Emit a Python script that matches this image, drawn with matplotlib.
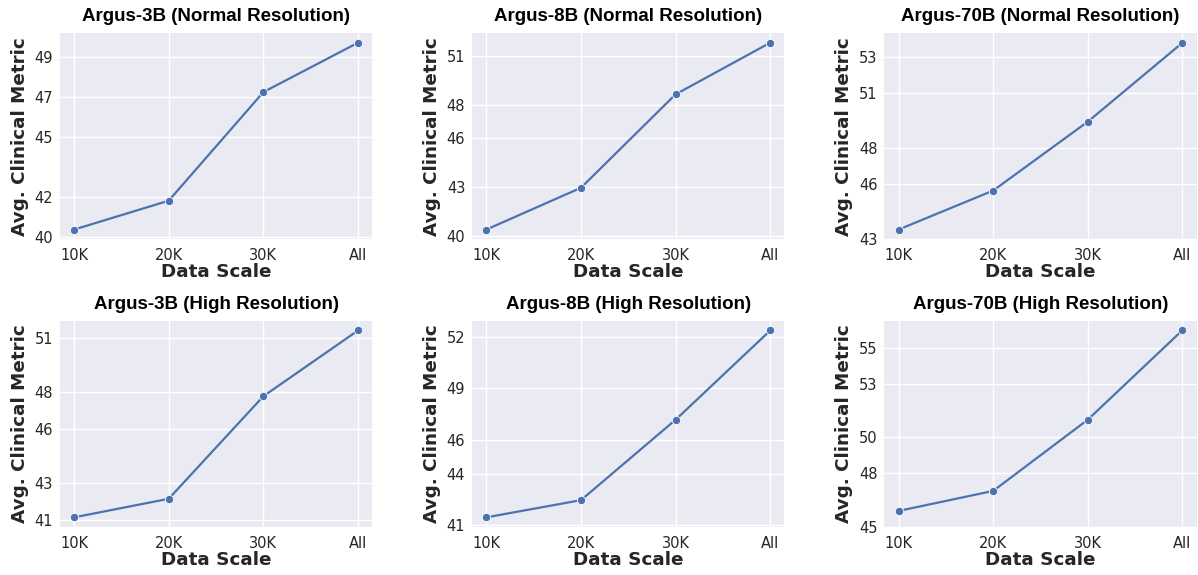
import matplotlib
matplotlib.use("Agg")
import matplotlib.pyplot as plt

# ── Data ─────────────────────────────────────────────────────────────────────
scales = ["10K", "20K", "30K", "All"]

titles = [
    "Argus-3B (Normal Resolution)",
    "Argus-8B (Normal Resolution)",
    "Argus-70B (Normal Resolution)",
    "Argus-3B (High Resolution)",
    "Argus-8B (High Resolution)",
    "Argus-70B (High Resolution)",
]

argus3b_normal = [40.35, 41.80, 47.25, 49.73]
argus8b_normal = [40.40, 42.95, 48.65, 51.80]
argus70b_normal = [43.51, 45.65, 49.43, 53.76]
argus3b_high = [41.14, 42.16, 47.79, 51.40]
argus8b_high = [41.43, 42.44, 47.16, 52.40]
argus70b_high = [45.88, 47.00, 50.98, 55.98]

series = [argus3b_normal, argus8b_normal, argus70b_normal,
          argus3b_high, argus8b_high, argus70b_high]

yticks = [
    [40, 42, 45, 47, 49],
    [40, 43, 46, 48, 51],
    [43, 46, 48, 51, 53],
    [41, 43, 46, 48, 51],
    [41, 44, 46, 49, 52],
    [45, 48, 50, 53, 55],
]

# ── Style (seaborn darkgrid look) ────────────────────────────────────────────
_BG   = "#eaeaf2"
_TEXT = "#262626"
_LINE = "#4c72b0"

plt.rcParams.update({
    "font.family": "DejaVu Sans",
    "axes.facecolor": _BG,
    "axes.edgecolor": "white",
    "axes.grid": True,
    "grid.color": "white",
    "grid.linewidth": 1.0,
    "axes.axisbelow": True,
    "xtick.color": _TEXT,
    "ytick.color": _TEXT,
    "xtick.major.size": 0,
    "ytick.major.size": 0,
    "axes.labelcolor": _TEXT,
})

fig, axes = plt.subplots(2, 3, figsize=(11.98, 5.75), dpi=100)
fig.subplots_adjust(left=0.050, right=0.9989, top=0.942, bottom=0.084,
                    wspace=0.32, hspace=0.40)

for ax, title, ys, ticks in zip(axes.flat, titles, series, yticks):
    ax.plot(range(len(scales)), ys, color=_LINE, linewidth=1.6,
            marker="o", markersize=6, markeredgecolor="white",
            markeredgewidth=0.6, zorder=3)
    for spine in ax.spines.values():
        spine.set_visible(False)
    ax.set_xticks(range(len(scales)))
    ax.set_xticklabels(scales)
    ax.set_yticks(ticks)
    ax.set_yticklabels([str(t) for t in ticks])
    ax.tick_params(axis="x", labelsize=10.5, pad=6.5)
    ax.tick_params(axis="y", labelsize=10.5, pad=5)
    ax.set_title(title, fontsize=13.5, fontweight="bold",
                 family="Liberation Sans", color="black", pad=9)
    ax.set_xlabel("Data Scale", fontsize=13.2, fontweight="bold", labelpad=0)
    ax.set_ylabel("Avg. Clinical Metric", fontsize=13.2, fontweight="bold",
                  labelpad=4)

fig.savefig("out.png", dpi=100, facecolor="white")
